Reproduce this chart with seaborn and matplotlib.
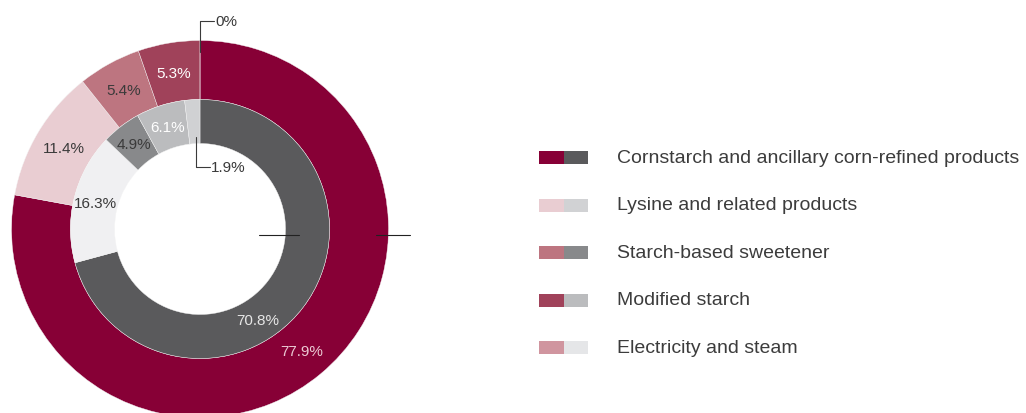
import numpy as np
import matplotlib
matplotlib.use('Agg')
import matplotlib.pyplot as plt
from matplotlib.patches import Rectangle
import seaborn as sns

# data
categories = ['Cornstarch and ancillary corn-refined products',
              'Lysine and related products',
              'Starch-based sweetener',
              'Modified starch',
              'Electricity and steam']
outer_values = [77.9, 11.4, 5.4, 5.3, 0.0]
inner_values = [70.8, 16.3, 4.9, 6.1, 1.9]

outer_colors = ['#870036', '#E9CDD2', '#BD7580', '#A0425A', '#D0959F']
inner_colors = ['#5A5A5C', '#F0F0F2', '#88898B', '#BBBCBE', '#D0D1D3']
legend_inner_colors = ['#5A5A5C', '#D1D2D4', '#88898B', '#BBBCBE', '#E5E6E8']
outer_label_colors = ['#EBC9D3', '#3A3A3A', '#3A3A3A', '#FFFFFF', '#3A3A3A']
inner_label_colors = ['#E6E6E6', '#3A3A3A', '#3A3A3A', '#FFFFFF', '#3A3A3A']

sns.set_theme(style='white')
plt.rcParams['font.family'] = ['Liberation Sans', 'DejaVu Sans']

W, H = 1026, 414
fig = plt.figure(figsize=(W / 100, H / 100), dpi=100)

# pie geometry in pixels
cx, cy, R = 200, 230, 188.5
r_mid = 129.5 / R
r_hole = 85.5 / R
ax = fig.add_axes([(cx - R) / W, (H - cy - R) / H, 2 * R / W, 2 * R / H])

wp = dict(edgecolor='#f4f4f4', linewidth=0.3)
w_out, _ = ax.pie(outer_values, radius=1, colors=outer_colors, startangle=90, counterclock=False,
                  wedgeprops=dict(width=1 - r_mid, **wp))
w_in, _ = ax.pie(inner_values, radius=r_mid, colors=inner_colors, startangle=90, counterclock=False,
                 wedgeprops=dict(width=r_mid - r_hole, **wp))
ax.set_xlim(-1, 1)
ax.set_ylim(-1, 1)
ax.set_aspect('equal')
ax.axis('off')


def fmt(v):
    return '0%' if v == 0 else '%.1f%%' % v


def place_labels(wedges, values, r_lab, colors, nudge):
    for i, (w, v) in enumerate(zip(wedges, values)):
        mid = np.deg2rad((w.theta1 + w.theta2) / 2 + nudge.get(i, 0))
        x, y = r_lab * np.cos(mid), r_lab * np.sin(mid)
        if v < 3:
            # small slices get a leader line
            if v == 0:
                y0, y1 = 0.94, 1.103
            else:
                y0, y1 = 0.49, 0.33
            x0 = r_lab * np.cos(mid) * 0.7
            ax.plot([x0, x0, x0 + 0.075], [y0, y1, y1], color='#3A3A3A', lw=0.8, clip_on=False)
            ax.text(x0 + 0.08, y1, fmt(v), ha='left', va='center', fontsize=11, color='#3A3A3A')
        else:
            ax.text(x, y, fmt(v), ha='center', va='center', fontsize=11, color=colors[i])


place_labels(w_out, outer_values, (1 + r_mid) / 2 * 0.995, outer_label_colors, {})
place_labels(w_in, inner_values, (r_mid + r_hole) / 2, inner_label_colors, {0: -20})

# horizontal stubs at the right
ax.plot([0.313, 0.525], [-0.032, -0.032], color='#222222', lw=0.8, clip_on=False)
ax.plot([0.934, 1.114], [-0.032, -0.032], color='#222222', lw=0.8, clip_on=False)

# legend
lx, ly0, dy = 539, 158.5, 47.5
pw, ph = 24.5, 13
for i, name in enumerate(categories):
    yc = ly0 + i * dy
    for j, col in enumerate([outer_colors[i], legend_inner_colors[i]]):
        fig.add_artist(Rectangle(((lx + j * pw) / W, (H - yc - ph / 2) / H), pw / W, ph / H,
                                 transform=fig.transFigure, facecolor=col, edgecolor='none'))
    fig.text(617 / W, (H - yc) / H, name, ha='left', va='center', fontsize=14, color='#3C3C3C')

fig.savefig('out.png', dpi=100)
